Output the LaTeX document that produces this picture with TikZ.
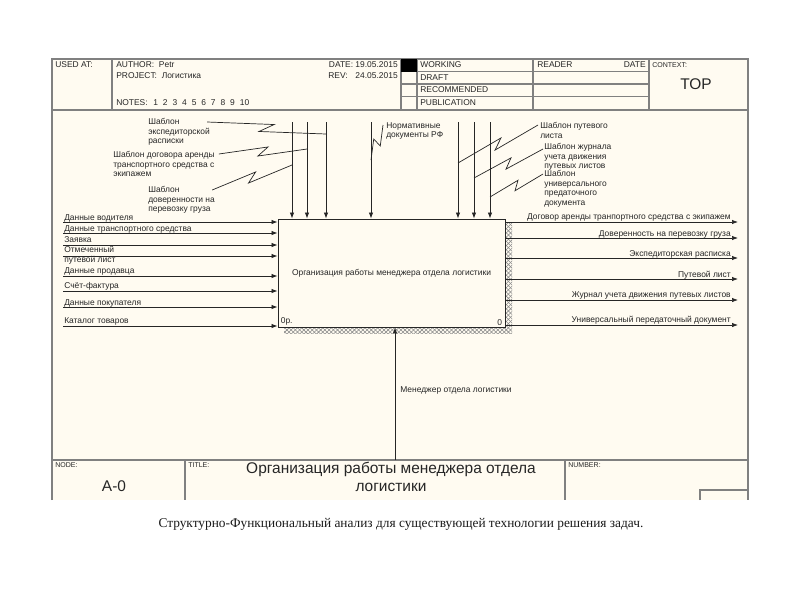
\documentclass[tikz,border=0pt]{standalone}
\usepackage{fontspec}
\setmainfont{Liberation Sans}
\newfontfamily\capfont{Liberation Serif}
\usetikzlibrary{arrows.meta,calc,patterns}
\definecolor{sheet}{RGB}{255,251,241}
\newcommand{\lblfont}{\fontsize{6}{6.8}\selectfont}
\newcommand{\zig}[2]{\draw[leader] (#1) -- ($(#1)!0.56!(#2)!3pt!90:(#2)$) -- ($(#1)!0.44!(#2)!3pt!-90:(#2)$) -- (#2);}
\tikzset{
  frame/.style={draw=black!50,line width=1pt},
  arr/.style={draw=black!85,line width=0.5pt,-{Latex[length=1.5mm,width=1.1mm]}},
  leader/.style={draw=black!85,line width=0.5pt},
  lbl/.style={font=\lblfont,text=black!85,inner sep=0pt,align=left},
  hdr/.style={font=\fontsize{6}{7}\selectfont,text=black!85,inner sep=0pt,anchor=west},
  tiny/.style={font=\fontsize{5}{6}\selectfont,text=black!85,inner sep=0pt,anchor=west}
}
\begin{document}
\begin{tikzpicture}[x=0.025cm,y=-0.025cm]
\useasboundingbox (0,0) rectangle (800,600);
% sheet and frame
\fill[sheet] (52,59) rectangle (748,500);
\draw[frame] (52,500) -- (52,59) -- (748,59) -- (748,500);
\draw[frame] (52,110) -- (748,110);
\draw[frame] (112,59) -- (112,110);
\draw[frame] (401,59) -- (401,110);
\draw[frame] (417,59) -- (417,110);
\draw[frame] (533,59) -- (533,110);
\draw[frame] (649,59) -- (649,110);
\draw[frame] (401,71.5) -- (649,71.5);
\draw[frame] (401,84) -- (649,84);
\draw[frame] (401,96.5) -- (649,96.5);
\fill[black] (401,59) rectangle (417,71.5);
\draw[frame] (52,460) -- (748,460);
\draw[frame] (185,460) -- (185,500);
\draw[frame] (565,460) -- (565,500);
\draw[frame] (700,500) -- (700,490) -- (748,490);
% header
\node[hdr] (h_used) at (55,65) {USED AT:};
\node[hdr] (h_author) at (116,65) {AUTHOR:\ \ Petr};
\node[hdr] (h_project) at (116,76) {PROJECT:\ \ Логистика};
\node[hdr] (h_notes) at (116,103) {NOTES:\hspace{4pt}1\hspace{3.5pt}2\hspace{3.5pt}3\hspace{3.5pt}4\hspace{3.5pt}5\hspace{3.5pt}6\hspace{3.5pt}7\hspace{3.5pt}8\hspace{3.5pt}9\hspace{3.5pt}10};
\node[hdr,anchor=east] (h_date) at (398,65) {DATE: 19.05.2015};
\node[hdr,anchor=east] (h_rev) at (398,76) {REV:\hspace{5.5pt}24.05.2015};
\node[hdr] (h_work) at (420,65) {WORKING};
\node[hdr] (h_draft) at (420,78) {DRAFT};
\node[hdr] (h_rec) at (420,90) {RECOMMENDED};
\node[hdr] (h_pub) at (420,103) {PUBLICATION};
\node[hdr] (h_reader) at (537,65) {READER};
\node[hdr,anchor=east] (h_rdate) at (646,65) {DATE};
\node[tiny] (h_ctx) at (652,65) {CONTEXT:};
\node[font=\fontsize{11}{12}\selectfont,text=black!85] (h_top) at (696,84) {TOP};
% activity box with shadow
\fill[pattern=crosshatch,pattern color=black!45] (505,223) rectangle (512,333);
\fill[pattern=crosshatch,pattern color=black!45] (284,327) rectangle (505,333);
\node[draw=black!85,line width=0.6pt,fill=sheet,minimum width=5.675cm,minimum height=2.7cm,font=\lblfont,text=black!85] (a0_box) at (391.5,273) {Организация работы менеджера отдела логистики};
\node[lbl,anchor=south west] (a0_cost) at ([shift={(3,-2)}]a0_box.south west) {0р.};
\node[lbl,anchor=south east] (a0_num) at ([shift={(-3,-2)}]a0_box.south east) {0};
% controls
\coordinate (c_dov) at (292,122);
\coordinate (c_dog) at (307,122);
\coordinate (c_exp) at (326,122);
\coordinate (c_norm) at (371,122);
\coordinate (c_put) at (458,122);
\coordinate (c_jur) at (474,122);
\coordinate (c_univ) at (490,122);
\draw[arr] (c_dov) -- (c_dov |- a0_box.north);
\draw[arr] (c_dog) -- (c_dog |- a0_box.north);
\draw[arr] (c_exp) -- (c_exp |- a0_box.north);
\draw[arr] (c_norm) -- (c_norm |- a0_box.north);
\draw[arr] (c_put) -- (c_put |- a0_box.north);
\draw[arr] (c_jur) -- (c_jur |- a0_box.north);
\draw[arr] (c_univ) -- (c_univ |- a0_box.north);
\node[lbl,anchor=north west] (l_exp) at (148,118) {Шаблон\\экспедиторской\\расписки};
\node[lbl,anchor=north west] (l_dog) at (113,151) {Шаблон договора аренды\\транспортного средства с\\экипажем};
\node[lbl,anchor=north west] (l_dov) at (148,186) {Шаблон\\доверенности на\\перевозку груза};
\node[lbl,anchor=north west] (l_norm) at (386,122) {Нормативные\\документы РФ};
\node[lbl,anchor=north west] (l_put) at (540,122) {Шаблон путевого\\листа};
\node[lbl,anchor=north west] (l_jur) at (544,143) {Шаблон журнала\\учета движения\\путевых листов};
\node[lbl,anchor=north west] (l_univ) at (544,170) {Шаблон\\универсального\\предаточного\\документа};
\coordinate (j_exp) at (326,134);
\coordinate (j_dog) at (307,149);
\coordinate (j_dov) at (292,165);
\coordinate (j_norm) at (371,160);
\coordinate (j_put) at (458,163);
\coordinate (j_jur) at (474,178);
\coordinate (j_univ) at (490,197);
\zig{$(l_exp.north east)+(-3,4)$}{j_exp}
\zig{$(l_dog.north east)+(4,3)$}{j_dog}
\zig{$(l_dov.north east)+(-3,4)$}{j_dov}
\zig{$(l_norm.north west)+(-3,3)$}{j_norm}
\zig{$(l_put.north west)+(-2,3)$}{j_put}
\zig{$(l_jur.north west)+(-1,6)$}{j_jur}
\zig{$(l_univ.north west)+(-1,4)$}{j_univ}
% inputs
\coordinate (i_drv) at (63,222);
\coordinate (i_ts) at (63,233);
\coordinate (i_zay) at (63,245);
\coordinate (i_otm) at (63,256);
\coordinate (i_prod) at (63,276);
\coordinate (i_sf) at (63,291);
\coordinate (i_pok) at (63,307);
\coordinate (i_kat) at (63,326);
\draw[arr] (i_drv) -- (i_drv -| a0_box.west);
\draw[arr] (i_ts) -- (i_ts -| a0_box.west);
\draw[arr] (i_zay) -- (i_zay -| a0_box.west);
\draw[arr] (i_otm) -- (i_otm -| a0_box.west);
\draw[arr] (i_prod) -- (i_prod -| a0_box.west);
\draw[arr] (i_sf) -- (i_sf -| a0_box.west);
\draw[arr] (i_pok) -- (i_pok -| a0_box.west);
\draw[arr] (i_kat) -- (i_kat -| a0_box.west);
\node[lbl,anchor=west] (t_drv) at (64,218) {Данные водителя};
\node[lbl,anchor=west] (t_ts) at (64,229) {Данные транспортного средства};
\node[lbl,anchor=west] (t_zay) at (64,240) {Заявка};
\node[lbl,anchor=north west] (t_otm) at (64,246) {Отмеченный\\путевой лист};
\node[lbl,anchor=west] (t_prod) at (64,271) {Данные продавца};
\node[lbl,anchor=west] (t_sf) at (64,286) {Счёт-фактура};
\node[lbl,anchor=west] (t_pok) at (64,303) {Данные покупателя};
\node[lbl,anchor=west] (t_kat) at (64,321) {Каталог товаров};
% outputs
\coordinate (o_dog) at (738,222);
\coordinate (o_dov) at (738,238);
\coordinate (o_exp) at (738,258);
\coordinate (o_put) at (738,279);
\coordinate (o_jur) at (738,300);
\coordinate (o_upd) at (738,325);
\draw[arr] (o_dog -| a0_box.east) -- (o_dog);
\draw[arr] (o_dov -| a0_box.east) -- (o_dov);
\draw[arr] (o_exp -| a0_box.east) -- (o_exp);
\draw[arr] (o_put -| a0_box.east) -- (o_put);
\draw[arr] (o_jur -| a0_box.east) -- (o_jur);
\draw[arr] (o_upd -| a0_box.east) -- (o_upd);
\node[lbl,anchor=east] (t_odog) at (731,217) {Договор аренды транпортного средства с экипажем};
\node[lbl,anchor=east] (t_odov) at (731,234) {Доверенность на перевозку груза};
\node[lbl,anchor=east] (t_oexp) at (731,254) {Экспедиторская расписка};
\node[lbl,anchor=east] (t_oput) at (731,275) {Путевой лист};
\node[lbl,anchor=east] (t_ojur) at (731,295) {Журнал учета движения путевых листов};
\node[lbl,anchor=east] (t_oupd) at (731,320) {Универсальный передаточный документ};
% mechanism
\coordinate (m_mgr) at (395,460);
\draw[arr] (m_mgr) -- (m_mgr |- a0_box.south);
\node[lbl,anchor=west] (t_mgr) at (400,390) {Менеджер отдела логистики};
% footer
\node[tiny] (f_node) at (55,465) {NODE:};
\node[font=\fontsize{11}{12}\selectfont,text=black!85] (f_a0) at (114,486) {A-0};
\node[tiny] (f_tlab) at (188,465) {TITLE:};
\node[font=\fontsize{11}{12.8}\selectfont,text=black!85,align=center,inner sep=0pt] (f_title) at (391,477) {Организация работы менеджера отдела\\логистики};
\node[tiny] (f_num) at (568,465) {NUMBER:};
% caption
\node[font=\capfont\fontsize{9.5}{11}\selectfont,text=black!90] (cap) at (401,524) {Структурно-Функциональный анализ для существующей технологии решения задач.};
\end{tikzpicture}
\end{document}
